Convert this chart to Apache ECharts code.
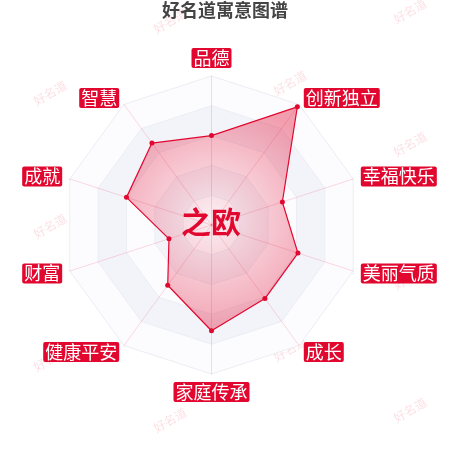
<!DOCTYPE html>
<html lang="zh">
<head>
<meta charset="UTF-8">
<title>好名道寓意图谱</title>
<script src="https://cdn.jsdelivr.net/npm/echarts@6/dist/echarts.min.js"></script>
<style>
  html, body { margin: 0; padding: 0; background: #fff; }
  #main { width: 450px; height: 450px; }
</style>
</head>
<body>
<div id="main"></div>
<script>
// 维度（按ECharts逆时针顺序，从正上方开始）
var indicators = ['品德', '智慧', '成就', '财富', '健康平安', '家庭传承', '成长', '美丽气质', '幸福快乐', '创新独立'];
var values = [60, 68, 60, 30, 50, 71, 61, 61, 50, 98];
var maxValue = 100;
var nameText = '之欧';
var titleText = '好名道寓意图谱';
var markText = '好名道';

var red = '#e2072f';
var myChart = echarts.init(document.getElementById('main'));

// 水印，交错排列
var marks = [];
for (var i = 0; i < 4; i++) {
    for (var j = -1; j < 4; j++) {
        marks.push({
            type: 'text',
            x: 50 + 120 * i,
            y: 93 - 5 * i - (i % 2) * 67 + 133 * j,
            rotation: Math.PI / 6,
            z: -1,
            silent: true,
            style: {
                text: markText,
                fill: 'rgba(226,7,47,0.13)',
                font: '12px "Noto Sans CJK SC"',
                align: 'center',
                verticalAlign: 'middle'
            }
        });
    }
}
// 中间的名字
marks.push({
    type: 'text',
    x: 211,
    y: 222,
    z: 100,
    silent: true,
    style: {
        text: nameText,
        fill: red,
        font: 'bold 30px "Noto Sans CJK SC"',
        align: 'center',
        verticalAlign: 'middle'
    }
});

var option = {
    backgroundColor: '#fff',
    title: {
        text: titleText,
        left: 'center',
        top: 0,
        padding: [1, 5],
        textStyle: { color: '#444', fontSize: 18, fontWeight: 'bold', fontFamily: 'Noto Sans CJK SC' }
    },
    graphic: marks,
    radar: {
        center: ['47%', '50%'],
        radius: 149,
        splitNumber: 5,
        nameGap: 8,
        indicator: indicators.map(function (n) { return { name: n, max: maxValue }; }),
        axisName: {
            color: '#fff',
            backgroundColor: red,
            fontSize: 18,
            fontFamily: 'Noto Sans CJK SC',
            padding: [1, 2],
            borderRadius: 2
        },
        axisLine: { lineStyle: { color: 'rgba(226,7,47,0.15)' } },
        splitLine: { lineStyle: { color: '#eceef5' } },
        splitArea: { areaStyle: { color: ['#fcfcfe', '#f3f4f9'] } }
    },
    series: [{
        type: 'radar',
        symbol: 'circle',
        symbolSize: 5,
        itemStyle: { color: red },
        lineStyle: { color: red, width: 1.2 },
        areaStyle: {
            color: {
                type: 'radial', x: 0.5, y: 0.5, r: 0.7,
                colorStops: [
                    { offset: 0, color: 'rgba(226,7,47,0.08)' },
                    { offset: 1, color: 'rgba(226,7,47,0.55)' }
                ]
            }
        },
        data: [{ value: values, name: nameText }]
    }]
};

myChart.setOption(option);
</script>
</body>
</html>
